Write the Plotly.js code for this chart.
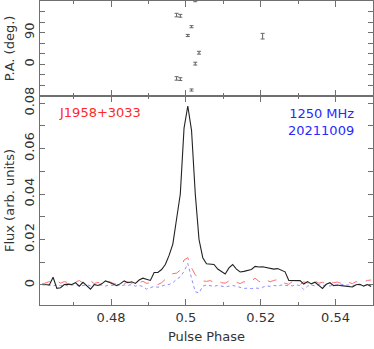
<!DOCTYPE html>
<html>
<head>
<meta charset="utf-8">
<script src="https://cdn.plot.ly/plotly-3.0.1.min.js"></script>
<style>
  body { margin: 0; background: #fff; }
  #chart { width: 374px; height: 349px; }
</style>
</head>
<body>
<div id="chart"></div>
<script>
// profile bins
const phaseStart = 0.4615;
const binWidth = 0.001;

// total intensity (black)
const fluxI = [
  0.0003, 0.0003, 0.0000, 0.0034, -0.0015, -0.0012, 0.0002, 0.0004, 0.0002, 0.0010,
  -0.0005, 0.0012, -0.0004, -0.0018, 0.0002, -0.0002, 0.0005, 0.0018, 0.0012, 0.0004,
  -0.0003, 0.0006, 0.0018, 0.0010, 0.0014, 0.0007, 0.0022, 0.0030, 0.0024, 0.0020,
  0.0055, 0.0055, 0.0068, 0.0090, 0.0130, 0.0180, 0.0290, 0.0400, 0.0690, 0.0787,
  0.0680, 0.0400, 0.0200, 0.0120, 0.0093, 0.0092, 0.0090, 0.0070, 0.0060, 0.0048,
  0.0075, 0.0090, 0.0070, 0.0057, 0.0060, 0.0064, 0.0068, 0.0082, 0.0079, 0.0080,
  0.0076, 0.0074, 0.0070, 0.0072, 0.0064, 0.0058, 0.0020, 0.0019, 0.0020, 0.0019,
  0.0004, 0.0015, 0.0005, 0.0012, -0.0002, -0.0015, 0.0003, 0.0010, -0.0003, 0.0000,
  -0.0003, -0.0006, -0.0008, -0.0009, 0.0001, 0.0003, -0.0005, 0.0002, -0.0007
];

// linear polarisation (red dashed)
const fluxL = [
  0.0003, 0.0010, 0.0015, 0.0012, 0.0018, 0.0008, 0.0015, 0.0010, 0.0018, 0.0012,
  0.0020, 0.0008, 0.0015, 0.0018, 0.0006, 0.0012, 0.0003, 0.0010, 0.0015, 0.0008,
  0.0003, 0.0012, 0.0005, 0.0014, 0.0009, 0.0002, 0.0011, 0.0016, 0.0007, 0.0010,
  0.0004, 0.0002, 0.0010, 0.0025, 0.0035, 0.0050, 0.0052, 0.0066, 0.0110, 0.0120,
  0.0075, 0.0045, 0.0028, 0.0018, 0.0016, 0.0019, 0.0012, 0.0020, 0.0010, 0.0008,
  0.0018, 0.0022, 0.0012, 0.0006, 0.0015, 0.0009, 0.0018, 0.0030, 0.0016, 0.0010,
  0.0022, 0.0014, 0.0020, 0.0024, 0.0012, 0.0008, 0.0003, 0.0016, 0.0010, 0.0002,
  0.0014, 0.0009, 0.0004, 0.0018, 0.0008, 0.0012, 0.0006, 0.0016, 0.0010, 0.0013,
  0.0007, 0.0017, 0.0012, 0.0006, 0.0015, 0.0009, 0.0014, 0.0020, 0.0022
];

// circular polarisation (blue dotted)
const fluxV = [
  0.0002, -0.0002, 0.0000, -0.0004, 0.0001, -0.0003, 0.0002, -0.0005, -0.0001, 0.0003,
  -0.0006, -0.0002, 0.0001, -0.0004, 0.0002, -0.0003, 0.0000, -0.0005, 0.0001, -0.0002,
  0.0003, -0.0004, 0.0000, -0.0002, 0.0002, -0.0005, -0.0001, -0.0008, -0.0018, -0.0012,
  -0.0006, -0.0010, -0.0004, 0.0000, 0.0002, 0.0010, 0.0025, 0.0036, 0.0060, 0.0095,
  0.0030, -0.0030, -0.0035, -0.0005, 0.0000, -0.0003, -0.0006, -0.0002, -0.0004, -0.0008,
  -0.0005, -0.0002, -0.0006, -0.0012, -0.0015, -0.0014, -0.0016, -0.0013, -0.0015, -0.0010,
  -0.0004, -0.0006, -0.0002, -0.0005, 0.0000, -0.0003, -0.0001, -0.0004, 0.0001, -0.0003,
  -0.0020, -0.0005, 0.0000, -0.0004, 0.0002, -0.0003, 0.0000, -0.0005, 0.0001, -0.0002,
  0.0003, -0.0001, 0.0000, -0.0004, 0.0002, 0.0000, -0.0003, 0.0001, 0.0000
];

// position angle points
const paPhase = [0.4975, 0.4985, 0.5005, 0.5015, 0.5025, 0.5035, 0.5205];
const paDeg   = [140, 138, 82, 107, 2, 33, 80];
const paErr   = [5, 4, 3, 3, 4, 4, 8];

const phase = fluxI.map((_, i) => +(phaseStart + i * binWidth).toFixed(4));

// PA is ambiguous by 180 deg, so draw each point at every wrap that lands in range
let paX = [], paY = [], paE = [];
paDeg.forEach((p, i) => {
  [-180, 0, 180].forEach(off => {
    paX.push(paPhase[i]);
    paY.push(p + off);
    paE.push(paErr[i]);
  });
});

const font = { family: 'DejaVu Sans', size: 13, color: '#333' };
const lineCol = '#707070';

let traces = [
  {
    x: phase, y: fluxL, type: 'scatter', mode: 'lines',
    line: { color: 'rgb(255,110,110)', width: 1, dash: 'dash' },
    xaxis: 'x', yaxis: 'y'
  },
  {
    x: phase, y: fluxV, type: 'scatter', mode: 'lines',
    line: { color: 'rgb(140,140,255)', width: 1, dash: 'dot' },
    xaxis: 'x', yaxis: 'y'
  },
  {
    x: phase, y: fluxI, type: 'scatter', mode: 'lines',
    line: { color: '#222', width: 1.1 },
    xaxis: 'x', yaxis: 'y'
  },
  {
    x: paX, y: paY, type: 'scatter', mode: 'markers',
    marker: { size: 1, color: '#666' },
    error_y: { type: 'data', array: paE, color: '#666', thickness: 1, width: 2 },
    xaxis: 'x2', yaxis: 'y2'
  }
];

const xCommon = {
  range: [0.461, 0.550],
  showline: true, mirror: 'ticks', linecolor: lineCol, linewidth: 1.2,
  ticks: 'inside', ticklen: 6, tickcolor: lineCol, tickwidth: 1,
  dtick: 0.02, tick0: 0.48,
  minor: { dtick: 0.01, ticklen: 3, ticks: 'inside', tickcolor: lineCol },
  showgrid: false, zeroline: false,
  tickfont: font
};

let layout = {
  width: 374,
  height: 349,
  margin: { l: 40, r: 1, t: 1, b: 44 },
  showlegend: false,
  paper_bgcolor: '#fff',
  plot_bgcolor: '#fff',
  font: font,
  xaxis: Object.assign({}, xCommon, {
    anchor: 'y',
    title: { text: 'Pulse Phase', font: font, standoff: 8 }
  }),
  xaxis2: Object.assign({}, xCommon, {
    anchor: 'y2', matches: 'x', showticklabels: false
  }),
  yaxis: {
    domain: [0, 0.6875],
    range: [-0.0088, 0.0831],
    showline: true, mirror: 'ticks', linecolor: lineCol, linewidth: 1.2,
    ticks: 'inside', ticklen: 5, tickcolor: lineCol,
    tickvals: [0, 0.02, 0.04, 0.06, 0.08],
    ticktext: ['0', '0.02', '0.04', '0.06', '0.08'],
    minor: { dtick: 0.01, tick0: 0, ticklen: 5, ticks: 'inside', tickcolor: lineCol },
    tickangle: -90,
    showgrid: false, zeroline: false,
    tickfont: font,
    title: { text: 'Flux (arb. units)', font: font, standoff: 4 }
  },
  yaxis2: {
    domain: [0.6875, 1],
    range: [-90, 180],
    showline: true, mirror: 'ticks', linecolor: lineCol, linewidth: 1.2,
    ticks: 'inside', ticklen: 5, tickcolor: lineCol,
    tickvals: [0, 90],
    minor: { dtick: 30, tick0: 0, ticklen: 5, ticks: 'inside', tickcolor: lineCol },
    tickangle: -90,
    showgrid: false, zeroline: false,
    tickfont: font,
    title: { text: 'P.A. (deg.)', font: font, standoff: 4 }
  },
  annotations: [
    {
      xref: 'paper', yref: 'paper', x: 0.051, y: 0.632,
      xanchor: 'left', yanchor: 'middle', showarrow: false,
      text: 'J1958+3033',
      font: { family: 'DejaVu Sans', size: 13, color: 'rgb(255,40,40)' }
    },
    {
      xref: 'paper', yref: 'paper', x: 0.949, y: 0.66,
      xanchor: 'right', yanchor: 'top', align: 'right', showarrow: false,
      text: '1250 MHz<br>20211009',
      font: { family: 'DejaVu Sans', size: 13, color: 'rgb(40,40,255)' }
    }
  ]
};

let options = {
  displayModeBar: false,
  staticPlot: true
};

Plotly.newPlot('chart', traces, layout, options);
</script>
</body>
</html>
